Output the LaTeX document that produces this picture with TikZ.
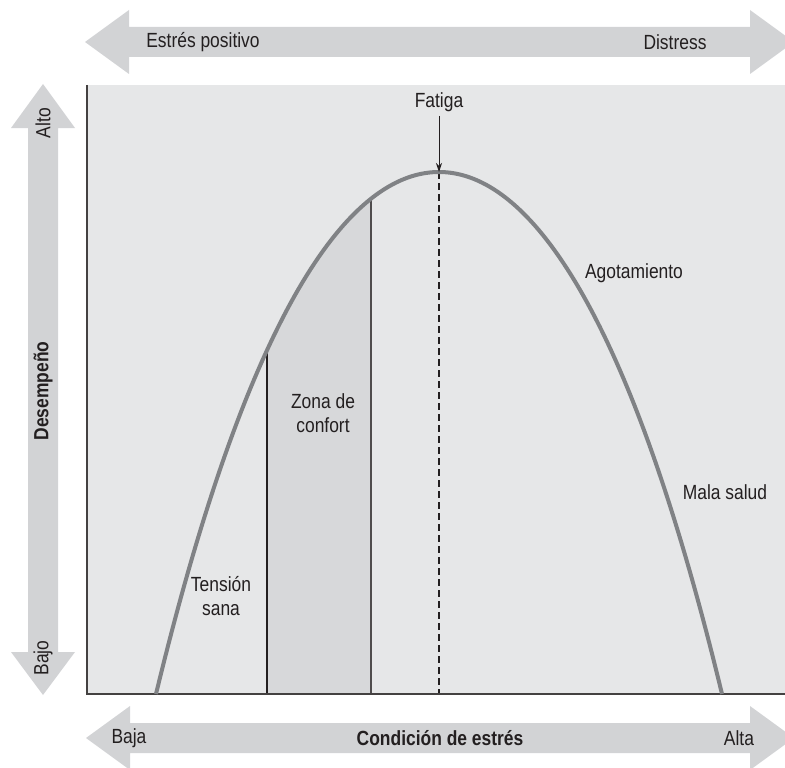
\documentclass[tikz,border=0pt]{standalone}
\usepackage{fontspec}
\setmainfont[FakeStretch=0.85]{Liberation Sans}
\usetikzlibrary{arrows.meta}
\definecolor{bandgray}{HTML}{D2D3D5}
\definecolor{plotgray}{HTML}{E6E7E8}
\definecolor{zonegray}{HTML}{D7D8DA}
\definecolor{curvegray}{HTML}{808285}
\definecolor{inkc}{HTML}{231F20}
\tikzset{
  lbl/.style={text=inkc, inner sep=0pt, align=center, font=\fontsize{20.5}{24}\selectfont},
  blbl/.style={lbl, font=\fontsize{20.5}{24}\selectfont\bfseries},
  band/.style={fill=bandgray, draw=none},
  axisline/.style={draw=inkc!85, line width=1.6pt},
  zoneline/.style={draw=inkc, line width=1.1pt},
  curveline/.style={draw=curvegray, line width=4pt},
  fatarrow/.style={draw=inkc, line width=1pt, -{Stealth[length=9pt,width=6pt]}},
  dashline/.style={draw=inkc, line width=1.3pt, dash pattern=on 7pt off 4pt}
}
\begin{document}
\begin{tikzpicture}[x=1pt,y=-1pt]
\useasboundingbox (0,0) rectangle (785,768);
% top double arrow
\fill[band] (85,42) -- (129,10) -- (129,27) -- (750,27) -- (750,10) -- (794,42)
  -- (750,74) -- (750,57) -- (129,57) -- (129,74) -- cycle;
% bottom double arrow
\fill[band] (86,738) -- (130,706) -- (130,723) -- (750,723) -- (750,706) -- (794,738)
  -- (750,770) -- (750,753) -- (130,753) -- (130,770) -- cycle;
% vertical double arrow
\fill[band] (43,84) -- (75,128) -- (58,128) -- (58,652) -- (75,652) -- (43,695)
  -- (11,652) -- (28,652) -- (28,128) -- (11,128) -- cycle;
% plot area
\fill[plotgray] (87,85) rectangle (800,694);
% comfort zone
\fill[zonegray] plot[domain=-172:-68, samples=60]
  ({439+\x},{172+522*(0.88*(\x/283)^2+0.12*(\x/283)^4)}) -- (371,694) -- (267,694) -- cycle;
\coordinate (zl) at (267,350);
\coordinate (zlb) at (267,694);
\coordinate (zr) at (371,199);
\coordinate (zrb) at (371,694);
\draw[zoneline] (zl) -- (zlb);
\draw[zoneline, draw=inkc!80] (zr) -- (zrb);
% peak and dashed line
\coordinate (peak) at (439,172);
\coordinate (peakb) at (439,694);
\draw[dashline] (peak) -- (peakb);
% axes
\coordinate (ot) at (87,85);
\coordinate (o) at (87,694);
\coordinate (xe) at (800,694);
\draw[axisline] (ot) -- (o) -- (xe);
% curve
\draw[curveline] plot[domain=-283:283, samples=140]
  ({439+\x},{172+522*(0.88*(\x/283)^2+0.12*(\x/283)^4)});
% labels
\node[lbl] (fatiga) at (439,102) {Fatiga};
\draw[fatarrow] (fatiga.south) ++(0,4) -- (peak);
\node[lbl] (zona) at (323,413) {Zona de\\confort};
\node[lbl] (tension) at (221,596) {Tensión\\sana};
\node[lbl] (agot) at (634,273) {Agotamiento};
\node[lbl] (mala) at (725,492) {Mala salud};
\node[lbl] (epos) at (203,42) {Estrés positivo};
\node[lbl] (dist) at (675,42) {Distress};
\node[lbl] (baja) at (129,738) {Baja};
\node[blbl] (cond) at (440,738) {Condición de estrés};
\node[lbl] (alta) at (739,738) {Alta};
\node[lbl, rotate=90] (alto) at (43,123) {Alto};
\node[blbl, rotate=90] (desemp) at (43,391) {Desempeño};
\node[lbl, rotate=90] (bajo) at (43,658) {Bajo};
\end{tikzpicture}
\end{document}
